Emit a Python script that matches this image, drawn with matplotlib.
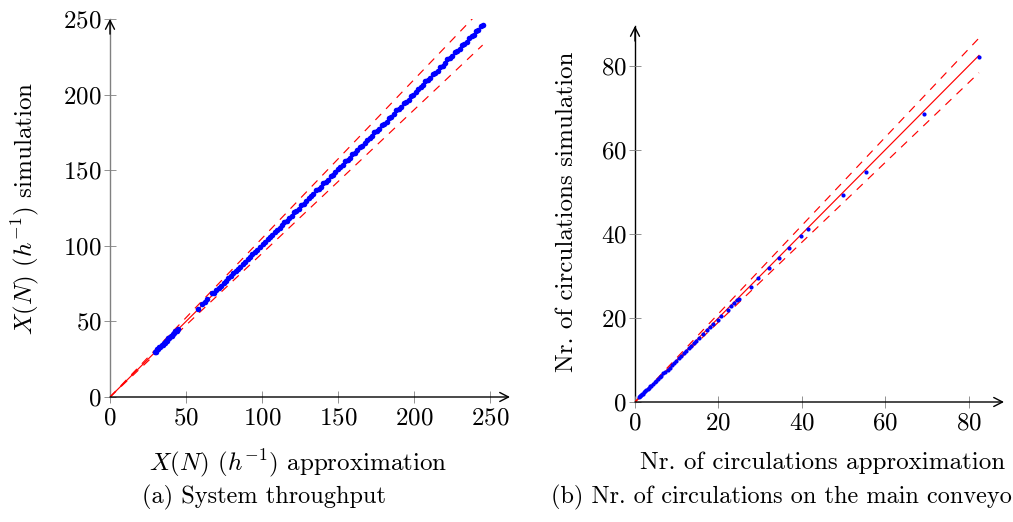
import matplotlib.pyplot as plt

plt.rcParams['font.family'] = 'cmr10'
plt.rcParams['mathtext.fontset'] = 'cm'
plt.rcParams['axes.formatter.use_mathtext'] = True
plt.rcParams['font.size'] = 18

# (a) system throughput, approximation vs simulation (1/h)
thr_approx = [
    29.5, 30.2, 31.0, 31.8, 32.5, 33.1, 33.9, 34.6, 35.2, 36.0, 36.7, 37.5,
    38.2, 39.0, 39.8, 40.5, 41.3, 42.1, 43.0, 43.8, 44.6,
    57.7, 60.3, 62.5, 64.0, 66.9, 68.4, 70.0, 71.6, 73.1, 74.7, 76.3, 77.9,
    79.4, 81.0, 82.6, 84.2, 85.7, 87.3, 88.9, 90.5, 92.0, 93.6, 95.2, 96.8,
    98.3,
    100.4, 101.9, 103.6, 105.1, 106.8, 108.2, 109.9, 111.5, 113.0, 114.7,
    116.2, 117.8, 119.5, 121.0, 122.6, 124.3, 125.8, 127.4, 129.1, 130.6,
    132.3, 133.8, 135.4, 137.1, 138.6, 140.2, 141.9, 143.4, 145.1, 146.6,
    148.2, 149.9, 151.4, 153.0, 154.7, 156.2, 157.9, 159.4, 161.0, 162.7,
    164.2, 165.8, 167.5, 169.0, 170.7, 172.2, 173.8, 175.5, 177.0, 178.6,
    180.3, 181.8, 183.5, 185.0, 186.6, 188.3, 189.8, 191.4, 193.1, 194.6,
    196.3, 197.8, 199.4, 201.1, 202.6, 204.2, 205.9, 207.4, 209.1, 210.6,
    212.2, 213.9, 215.4, 217.0, 218.7, 220.2, 221.9, 223.4, 225.0, 226.7,
    228.2, 229.8, 231.5, 233.0, 234.6, 236.3, 237.8, 239.1, 240.6, 242.2,
    243.9, 245.0,
]
thr_sim = [
    29.8, 30.0, 31.5, 31.6, 32.9, 33.0, 34.4, 34.5, 35.7, 35.9, 37.1, 37.3,
    38.8, 38.8, 40.3, 40.4, 41.8, 42.0, 43.4, 43.6, 44.9,
    58.0, 61.3, 62.9, 64.7, 68.5, 68.9, 70.6, 72.2, 73.6, 75.4, 76.8, 78.6,
    79.9, 81.7, 83.1, 84.9, 86.2, 88.0, 89.4, 91.2, 92.6, 94.3, 95.7, 97.5,
    98.9,
    101.3, 102.2, 104.7, 105.6, 107.0, 109.2, 110.5, 111.6, 113.8, 115.9,
    116.6, 118.7, 119.8, 122.1, 123.2, 124.6, 126.9, 127.9, 129.4, 131.7,
    132.8, 134.2, 136.6, 137.6, 139.0, 141.4, 142.3, 143.8, 146.3, 147.0,
    148.7, 151.1, 151.8, 153.5, 155.9, 156.6, 158.3, 160.7, 161.4, 163.1,
    165.5, 166.2, 167.8, 170.3, 171.1, 172.6, 175.1, 175.9, 177.3, 179.9,
    180.8, 182.2, 184.8, 185.4, 187.0, 189.6, 190.3, 191.8, 194.4, 195.0,
    196.7, 199.1, 199.9, 201.5, 203.9, 204.7, 206.3, 208.8, 209.6, 211.0,
    213.6, 214.4, 215.8, 218.4, 219.2, 220.7, 223.3, 223.9, 225.5, 228.0,
    228.7, 230.3, 232.8, 233.5, 235.1, 237.6, 238.9, 239.7, 241.9, 243.0,
    245.3, 245.9,
]

# (b) number of circulations on the main conveyor
circ_approx = [
    0.9, 1.1, 1.3, 1.5, 1.7, 1.9, 2.1, 2.4, 2.7, 3.0, 3.3, 3.6, 3.9, 4.3,
    4.7, 5.1, 5.5, 5.9, 6.3, 6.8, 7.3, 7.8, 8.3, 8.8, 9.3, 9.9, 10.5, 11.1,
    11.7, 12.3, 12.9, 13.5, 14.1, 14.7, 15.3, 16.3, 17.3, 17.9, 18.7, 19.8,
    20.7, 22.2, 23.1, 23.7, 24.5, 24.9, 27.8, 29.6, 32.1, 34.6, 37.0, 39.8,
    41.5, 49.9, 55.3, 69.2, 82.5,
]
circ_sim = [
    1.2, 1.4, 1.5, 1.7, 1.8, 2.0, 2.3, 2.5, 2.8, 3.1, 3.3, 3.7, 3.9, 4.3,
    4.7, 5.1, 5.5, 5.9, 6.3, 6.8, 7.2, 7.7, 8.2, 8.7, 9.2, 9.8, 10.4, 11.0,
    11.6, 12.2, 12.8, 13.4, 14.0, 14.6, 15.2, 16.1, 17.1, 17.8, 18.5, 19.6,
    20.5, 22.0, 22.9, 23.5, 24.3, 24.6, 27.4, 29.4, 31.9, 34.3, 36.7, 39.5,
    41.1, 49.3, 54.8, 68.5, 82.2,
]

thr_ticks = [0, 50, 100, 150, 200, 250]
circ_ticks = [0, 20, 40, 60, 80]
tolerance = 0.05

W, H = 1013, 522
fig = plt.figure(figsize=(W / 100, H / 100), dpi=100)


def px_rect(x0, y0, x1, y1):
    # pixel box (top-left origin) -> figure fraction rect
    return [x0 / W, 1 - y1 / H, (x1 - x0) / W, (y1 - y0) / H]


def ftext(x, y, s, **kw):
    fig.text(x / W, 1 - y / H, s, **kw)


def arrow(ax, start, end, color):
    ax.annotate('', xy=end, xytext=start, xycoords='axes fraction',
                arrowprops=dict(arrowstyle='->,head_length=0.35,head_width=0.18',
                                color=color, lw=1.0, shrinkA=0, shrinkB=0),
                annotation_clip=False)


def draw_panel(ax, approx, sim, ticks, xmax, ymax, yaxis_color, ms):
    top = max(approx)
    xs = [0, top]
    ax.plot(xs, xs, color='#ff0000', lw=0.85, zorder=2)
    ax.plot(xs, [v * (1 + tolerance) for v in xs], color='#ff0000', lw=0.85,
            dashes=(7, 6), zorder=2)
    ax.plot(xs, [v * (1 - tolerance) for v in xs], color='#ff0000', lw=0.85,
            dashes=(7, 6), zorder=2)
    ax.plot(approx, sim, 'o', color='#0000ff', ms=ms, mew=0, zorder=3)

    ax.set_xlim(0, xmax)
    ax.set_ylim(0, ymax)
    ax.set_xticks(ticks)
    ax.set_yticks(ticks)

    for s in ax.spines.values():
        s.set_visible(False)
    ax.spines['left'].set_visible(True)
    ax.spines['left'].set_color(yaxis_color)
    ax.spines['left'].set_linewidth(1.0)
    ax.spines['left'].set_zorder(1)

    # axis lines with arrow heads
    arrow(ax, (0, 0), (1, 0), 'black')
    arrow(ax, (0, 0.96), (0, 1), 'black')

    ax.tick_params(direction='inout', length=8.6, width=0.6, color='#808080',
                   pad=1.5)
    ax.tick_params(axis='x', pad=3)
    ax.set_facecolor('none')


ax1 = fig.add_axes(px_rect(110, 19, 510, 397))
draw_panel(ax1, thr_approx, thr_sim, thr_ticks, 263, 250, '#808080', 4.0)

ax2 = fig.add_axes(px_rect(635, 26, 1004, 402))
draw_panel(ax2, circ_approx, circ_sim, circ_ticks, 88.5, 89.5, 'black', 3.0)

ftext(298, 463, r'$X(N)$ $(h^{-1})$ approximation', ha='center', va='center')
ftext(25, 208, r'$X(N)$ $(h^{-1})$ simulation', ha='center', va='center',
      rotation=90)
ftext(823, 463, 'Nr. of circulations approximation', ha='center', va='center')
ftext(567, 212, 'Nr. of circulations simulation', ha='center', va='center',
      rotation=90)

ftext(264, 497, '(a) System throughput', ha='center', va='center',
      fontsize=17.5)
ftext(551, 497, '(b) Nr. of circulations on the main conveyo', ha='left',
      va='center', fontsize=17.5)

fig.savefig('out.png', dpi=100)
